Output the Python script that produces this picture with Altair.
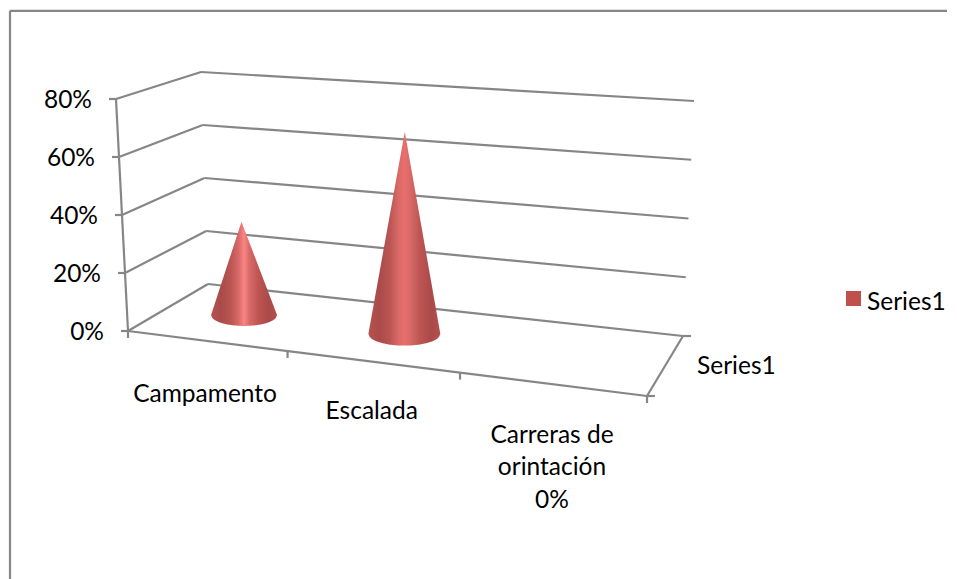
import numpy as np
import pandas as pd
import altair as alt

# ---- chart values
categories = ["Campamento", "Escalada", "Carreras de orintación"]
values = [33, 69, 0]
value_ticks = [0, 20, 40, 60, 80]
series_name = "Series1"
value_max = 80

# ---- projection of the 3-D box on to the picture (page pixels)
W, H = 946, 579
floor = np.array([[127, 331], [646, 396], [682, 336], [207, 284]], float)   # FL FR BR BL
spans = np.array([232, 257, 235, 212], float)      # height of the full value axis at each corner
tilts = np.array([-12, 9.6, 11, -7], float)        # sideways lean of the verticals at each corner
INK = "#868686"
RED = "#c0504d"
FONT = "Lato"
FS = 24.5


def homography(q):
    src = [(0, 0), (1, 0), (1, 1), (0, 1)]
    A, b = [], []
    for (u, v), (x, y) in zip(src, q):
        A.append([u, v, 1, 0, 0, 0, -u * x, -v * x]); b.append(x)
        A.append([0, 0, 0, u, v, 1, -u * y, -v * y]); b.append(y)
    return np.append(np.linalg.solve(np.array(A), np.array(b)), 1).reshape(3, 3)


HF = homography(floor)


def bilinear(c, u, d):
    return (1 - d) * ((1 - u) * c[0] + u * c[1]) + d * ((1 - u) * c[3] + u * c[2])


def proj(u, d, v=0.0):
    p = HF @ np.array([u, d, 1.0])
    p = p[:2] / p[2]
    f = v / value_max
    return np.array([p[0] + bilinear(tilts, u, d) * f, p[1] - bilinear(spans, u, d) * f])


rules = []


def seg(a, b):
    rules.append(dict(x=a[0], y=a[1], x2=b[0], y2=b[1]))


# wall grid lines
for v in value_ticks:
    seg(proj(0, 0, v), proj(0, 1, v))
    seg(proj(0, 1, v), proj(1, 1, v))
    a = proj(0, 0, v)
    seg(a, (a[0] - 7, a[1]))
seg(proj(0, 0, 0), proj(0, 0, value_max))
seg(proj(0, 0), proj(1, 0))
seg(proj(1, 0), proj(1, 1))
# category ticks
n = len(categories)
for i in range(n + 1):
    a = proj(i / n + (0.004 if 0 < i < n else 0), 0)
    seg(a, (a[0], a[1] + 7))
# depth-axis ticks
for d in (0, 1):
    a = proj(1, d)
    seg(a, (a[0] + 8, a[1]))
# chart frame
seg((9, 10.8), (W, 10.8))
seg((9, 10.8), (9, H))

X = alt.X("x:Q", scale=alt.Scale(domain=[8, W], nice=False, zero=False), axis=None)
Y = alt.Y("y:Q", scale=alt.Scale(domain=[H, 8], nice=False, zero=False), axis=None)

layers = [
    alt.Chart(pd.DataFrame(rules)).mark_rule(color=INK, strokeWidth=2.2).encode(
        x=X, y=Y, x2="x2:Q", y2="y2:Q")
]

# cones
PEAKS = ["#fb8583", "#ea6e6c", "#ea6e6c"]
CONE_NUDGE = [0.0, 0.005, 0.0]
for i, val in enumerate(values):
    if val <= 0:
        continue
    u = (i + 0.5) / n + CONE_NUDGE[i]
    c = proj(u, 0.5)
    apex = proj(u, 0.5, val)
    a = 0.218 * abs(proj(u + 1 / 6, 0.5)[0] - proj(u - 1 / 6, 0.5)[0])
    b = 0.33 * a
    xs = np.unique(np.r_[np.linspace(c[0] - a, c[0] + a, 61), apex[0]])
    top = np.where(
        xs <= apex[0],
        apex[1] + (xs - apex[0]) / (c[0] - a - apex[0]) * (c[1] - apex[1]),
        apex[1] + (xs - apex[0]) / (c[0] + a - apex[0]) * (c[1] - apex[1]),
    )
    bot = c[1] + b * np.sqrt(np.clip(1 - ((xs - c[0]) / a) ** 2, 0, 1))
    df = pd.DataFrame({"x": xs, "y": top, "y2": bot})
    stops = [
        (0.00, "#b85250"), (0.15, "#a94b4a"), (0.30, "#bb5553"), (0.42, "#d86a68"),
        (0.50, PEAKS[i]), (0.58, "#d86a68"), (0.72, "#bd5452"), (0.88, "#a94a49"), (1.00, "#b5504e"),
    ]
    layers.append(
        alt.Chart(df).mark_area(
            color=alt.Gradient(
                gradient="linear", x1=0, x2=1, y1=0, y2=0,
                stops=[alt.GradientStop(offset=o, color=col) for o, col in stops],
            )
        ).encode(x=X, y=Y, y2="y2:Q")
    )

# value-axis labels
right_txt = []
for v in value_ticks:
    a = proj(0, 0, v)
    right_txt.append(dict(x=a[0] - 24, y=a[1] + 1.5, t=f"{v}%"))

# category labels
center_txt = []
lab_off = [(0, 54), (2, 51), (0, 0)]
for i, name in enumerate(categories):
    a = proj((i + 0.5) / n, 0)
    if i == 2:
        center_txt += [
            dict(x=551, y=436, t="Carreras de"),
            dict(x=551, y=468, t="orintación"),
            dict(x=551, y=501, t=f"{values[2]}%"),
        ]
    else:
        center_txt.append(dict(x=a[0] + lab_off[i][0], y=a[1] + lab_off[i][1], t=name))

left_txt = [dict(x=696, y=367, t=series_name), dict(x=866, y=303, t=series_name)]

for rows, al in ((right_txt, "right"), (center_txt, "center"), (left_txt, "left")):
    layers.append(
        alt.Chart(pd.DataFrame(rows)).mark_text(
            align=al, baseline="middle", font=FONT, fontSize=FS, color="#000000"
        ).encode(x=X, y=Y, text="t:N")
    )

# legend swatch
layers.append(
    alt.Chart(pd.DataFrame([dict(x=852.5, y=298.5)])).mark_point(
        shape="square", filled=True, size=225, color=RED, opacity=1
    ).encode(x=X, y=Y)
)

chart = alt.layer(*layers).properties(width=W - 8, height=H - 8, padding=0, background="#ffffff").configure_view(stroke=None)
chart.save("out.html", embed_options={"renderer": "svg", "actions": False})
